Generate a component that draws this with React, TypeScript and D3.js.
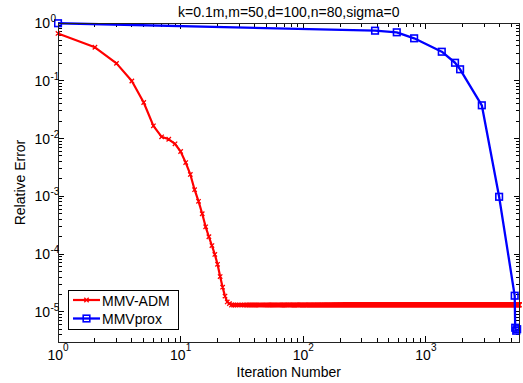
import React from "react";
import * as d3 from "d3";

// ---- data ----
const titleText = "k=0.1m,m=50,d=100,n=80,sigma=0";
const xLabelText = "Iteration Number";
const yLabelText = "Relative Error";
const seriesNames = ["MMV-ADM", "MMVprox"];

// MMV-ADM: one value per iteration (iterations 1..25), then a flat plateau to the end
const admHead = [
  0.66, 0.38, 0.2, 0.099, 0.042, 0.0166, 0.0107, 0.0097, 0.0081, 0.00596,
  0.00383, 0.00239, 0.0013, 0.000818, 0.000499, 0.000296, 0.000199, 0.00014,
  9.86e-5, 6.64e-5, 4.07e-5, 2.67e-5, 1.87e-5, 1.48e-5, 1.39e-5,
];
const admPlateau = 1.31e-5;
const admLastIteration = 5800;

// MMVprox: recorded at irregular iterations
const proxIterations = [1, 385, 579, 802, 1348, 1729, 1901, 2858, 3956, 5300, 5350, 5450, 5550];
const proxValues = [0.99, 0.736, 0.69, 0.543, 0.318, 0.205, 0.158, 0.0376, 9.8e-4, 1.9e-5, 5.3e-6, 4.7e-6, 5.0e-6];

const xDomain = [1, 5800];
const yDomain = [3e-6, 1];
const xMajor = [1, 10, 100, 1000];
const yMajor = [1e-5, 1e-4, 1e-3, 1e-2, 1e-1, 1];

// ---- layout ----
const W = 523;
const H = 383;
const L = 58, R = 519.5, T = 23, B = 342;
const FONT = "Arial, 'Liberation Sans', Helvetica, sans-serif";
const RED = "#ff0000";
const BLUE = "#0000ff";

export default function App() {
  const x = d3.scaleLog().domain(xDomain).range([L, R]);
  const y = d3.scaleLog().domain(yDomain).range([B, T]);

  const admPoints: [number, number][] = [];
  for (let i = 1; i <= admLastIteration; i++) {
    admPoints.push([i, i <= admHead.length ? admHead[i - 1] : admPlateau]);
  }
  const proxPoints: [number, number][] = proxIterations.map((it, i) => [it, proxValues[i]]);

  const line = d3
    .line<[number, number]>()
    .x((d) => x(d[0]))
    .y((d) => y(d[1]));

  const m = 2.2;
  let admMarkers = "";
  for (const d of admPoints) {
    const px = x(d[0]);
    const py = y(d[1]);
    admMarkers += `M${px - m},${py - m}L${px + m},${py + m}M${px - m},${py + m}L${px + m},${py - m}`;
  }
  const s = 3.3;

  const xMinor = x.ticks().filter((t) => !xMajor.some((v) => Math.abs(v - t) / v < 1e-6));
  const yMinor = y.ticks().filter((t) => !yMajor.some((v) => Math.abs(v - t) / v < 1e-6));

  const majorLen = 6;
  const minorLen = 4;
  const exp = (v: number) => String(Math.round(Math.log10(v)));

  return (
    <svg
      width={W}
      height={H}
      style={{ position: "absolute", left: 0, top: 0, background: "#fff" }}
      fontFamily={FONT}
    >
      <rect x={0} y={0} width={W} height={H} fill="#fff" />
      <defs>
        <clipPath id="plotclip">
          <rect x={L - 4} y={T - 4} width={R - L + 8} height={B - T + 8} />
        </clipPath>
      </defs>

      {/* ticks */}
      <g stroke="#000" strokeWidth={1} shapeRendering="crispEdges">
        {xMajor.map((t) => (
          <g key={"xM" + t}>
            <line x1={x(t)} x2={x(t)} y1={B} y2={B - majorLen} />
            <line x1={x(t)} x2={x(t)} y1={T} y2={T + majorLen} />
          </g>
        ))}
        {xMinor.map((t) => (
          <g key={"xm" + t}>
            <line x1={x(t)} x2={x(t)} y1={B} y2={B - minorLen} />
            <line x1={x(t)} x2={x(t)} y1={T} y2={T + minorLen} />
          </g>
        ))}
        {yMajor.map((t) => (
          <g key={"yM" + t}>
            <line x1={L} x2={L + majorLen} y1={y(t)} y2={y(t)} />
            <line x1={R} x2={R - majorLen} y1={y(t)} y2={y(t)} />
          </g>
        ))}
        {yMinor.map((t) => (
          <g key={"ym" + t}>
            <line x1={L} x2={L + minorLen} y1={y(t)} y2={y(t)} />
            <line x1={R} x2={R - minorLen} y1={y(t)} y2={y(t)} />
          </g>
        ))}
      </g>

      {/* series */}
      <g clipPath="url(#plotclip)">
        <path d={line(admPoints) || ""} fill="none" stroke={RED} strokeWidth={2.2} strokeLinejoin="round" />
        <path d={admMarkers} fill="none" stroke={RED} strokeWidth={1.3} />
        <path d={line(proxPoints) || ""} fill="none" stroke={BLUE} strokeWidth={2.3} strokeLinejoin="round" />
        {proxPoints.map((d, i) => (
          <rect
            key={"p" + i}
            x={x(d[0]) - s}
            y={y(d[1]) - s}
            width={2 * s}
            height={2 * s}
            fill="none"
            stroke={BLUE}
            strokeWidth={1.6}
          />
        ))}
      </g>

      {/* axes box */}
      <rect x={L} y={T} width={R - L} height={B - T} fill="none" stroke="#222" strokeWidth={1} shapeRendering="crispEdges" />

      {/* x tick labels */}
      <g fontSize={14} fill="#000">
        {xMajor.map((t) => (
          <text key={"xl" + t} x={x(t)} y={360} textAnchor="middle">
            10
            <tspan fontSize={10} dy={-9}>
              {exp(t)}
            </tspan>
          </text>
        ))}
      </g>

      {/* y tick labels */}
      <g fill="#000">
        {yMajor.map((t) => (
          <g key={"yl" + t}>
            <text x={50} y={y(t) + 5} fontSize={14} textAnchor="end">
              10
            </text>
            <text x={50.5} y={y(t) - 1} fontSize={10} textAnchor="start">
              {exp(t)}
            </text>
          </g>
        ))}
      </g>

      {/* titles */}
      <text x={(L + R) / 2} y={16.5} fontSize={14} textAnchor="middle" fill="#000">
        {titleText}
      </text>
      <text x={(L + R) / 2} y={377} fontSize={14} textAnchor="middle" fill="#000">
        {xLabelText}
      </text>
      <text
        transform={`translate(25,${(T + B) / 2}) rotate(-90)`}
        fontSize={14}
        textAnchor="middle"
        fill="#000"
      >
        {yLabelText}
      </text>

      {/* legend */}
      <g>
        <rect x={68.5} y={290.5} width={110} height={39} fill="#fff" stroke="#000" strokeWidth={1} shapeRendering="crispEdges" />
        <line x1={73} x2={100} y1={300} y2={300} stroke={RED} strokeWidth={2.2} />
        <path
          d={`M${86.5 - m},${300 - m}L${86.5 + m},${300 + m}M${86.5 - m},${300 + m}L${86.5 + m},${300 - m}`}
          stroke={RED}
          strokeWidth={1.3}
        />
        <text x={102} y={305.5} fontSize={14} fill="#000">
          {seriesNames[0]}
        </text>
        <line x1={73} x2={100} y1={318.5} y2={318.5} stroke={BLUE} strokeWidth={2.3} />
        <rect x={86.5 - s} y={318.5 - s} width={2 * s} height={2 * s} fill="none" stroke={BLUE} strokeWidth={1.6} />
        <text x={102} y={324} fontSize={14} fill="#000">
          {seriesNames[1]}
        </text>
      </g>
    </svg>
  );
}
